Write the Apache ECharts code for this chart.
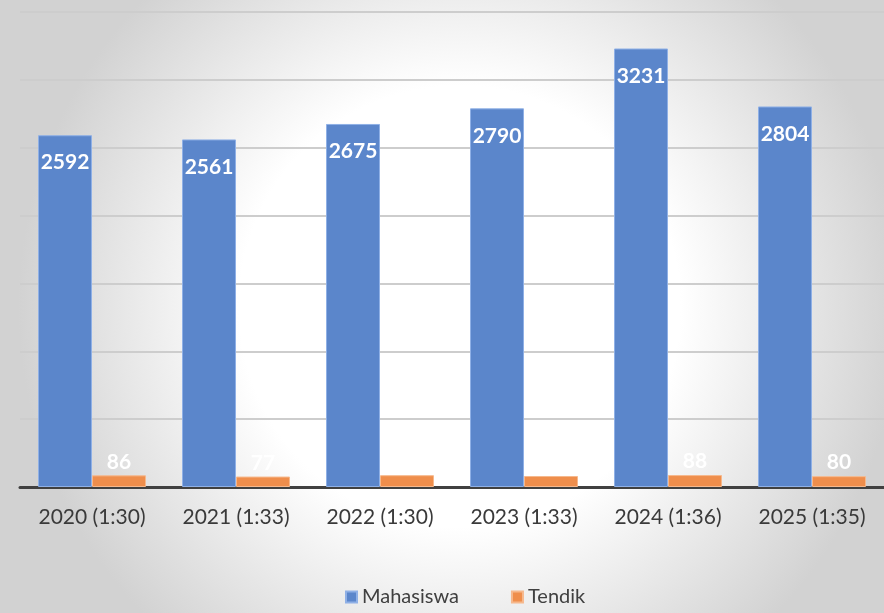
<!DOCTYPE html>
<html>
<head>
<meta charset="utf-8">
<script src="https://cdn.jsdelivr.net/npm/echarts@6/dist/echarts.min.js"></script>
<style>
  html, body { margin: 0; padding: 0; }
  #chart { width: 884px; height: 613px; }
</style>
</head>
<body>
<div id="chart"></div>
<script>
// data
var categories = ["2020 (1:30)", "2021 (1:33)", "2022 (1:30)", "2023 (1:33)", "2024 (1:36)", "2025 (1:35)"];
var mahasiswa = [2592, 2561, 2675, 2790, 3231, 2804];
var tendik = [86, 77, 87, 81, 88, 80];

var chart = echarts.init(document.getElementById("chart"));
chart.setOption({
  backgroundColor: {
    type: "radial", x: 0.52, y: 0.5, r: 0.72,
    colorStops: [
      { offset: 0, color: "#ffffff" },
      { offset: 0.5, color: "#ffffff" },
      { offset: 1, color: "#d2d2d2" }
    ]
  },
  textStyle: { fontFamily: "Lato, 'Open Sans', sans-serif" },
  grid: { left: 20, right: 0, top: 12, bottom: 126 },
  legend: {
    bottom: 1,
    left: 340,
    itemWidth: 11,
    itemHeight: 11,
    itemGap: 52,
    icon: "rect",
    textStyle: { fontSize: 20, color: "#404040", fontFamily: "Lato, sans-serif" },
    data: ["Mahasiswa", "Tendik"]
  },
  xAxis: {
    type: "category",
    data: categories,
    axisLine: { lineStyle: { color: "#404040", width: 3 } },
    axisTick: { show: false },
    axisLabel: { fontSize: 21, color: "#3a3a3a", margin: 20 }
  },
  yAxis: {
    type: "value",
    min: 0,
    max: 3500,
    interval: 500,
    axisLabel: { show: false },
    axisLine: { show: false },
    axisTick: { show: false },
    splitLine: { lineStyle: { color: "#cdcdcd", width: 2 } }
  },
  series: [
    {
      name: "Mahasiswa",
      type: "bar",
      data: mahasiswa,
      barGap: "0%",
      barCategoryGap: "25%",
      itemStyle: { color: "#5b86cb", borderColor: "#8fb0e6", borderWidth: 1 },
      label: {
        show: true,
        position: "insideTop",
        distance: 17,
        color: "#ffffff",
        fontSize: 21,
        fontWeight: "bold"
      }
    },
    {
      name: "Tendik",
      type: "bar",
      data: tendik,
      itemStyle: { color: "#ef8e4c", borderColor: "#f6b88c", borderWidth: 1 },
      label: {
        show: true,
        position: "top",
        distance: 3,
        color: "#ffffff",
        fontSize: 21,
        fontWeight: "bold"
      }
    }
  ]
});
</script>
</body>
</html>
